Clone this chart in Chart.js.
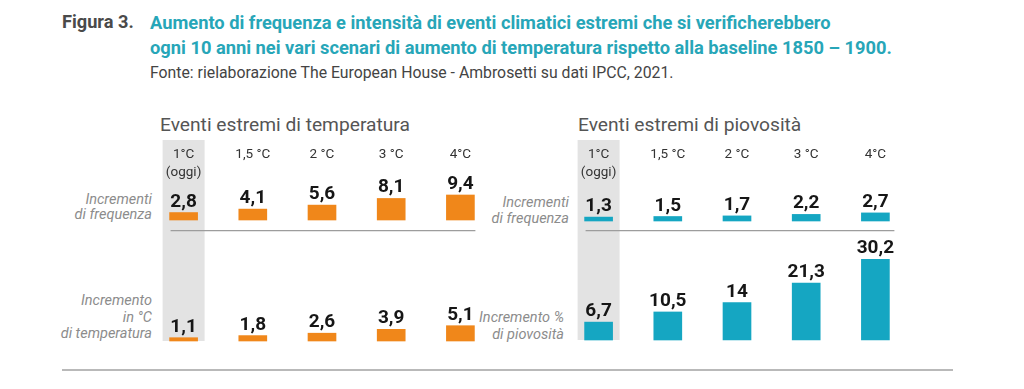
<!DOCTYPE html>
<html lang="it">
<head>
<meta charset="UTF-8">
<title>Figura 3 - Eventi climatici estremi</title>
<script src="https://cdn.jsdelivr.net/npm/chart.js"></script>
<style>
  body { margin: 0; background: #fff; font-family: Roboto, sans-serif; }
  #page { position: relative; width: 1024px; height: 389px; overflow: hidden; }
  .abs { position: absolute; white-space: nowrap; }
  .fig { left: 62px; top: 10px; font-size: 18.2px; line-height: 24px; font-weight: bold; color: #4a4a4a; }
  .title { left: 150px; top: 10px; font-size: 18.3px; line-height: 25px; font-weight: bold; color: #27a6b8; }
  .source { left: 150px; top: 63px; font-size: 15.8px; line-height: 20px; color: #444; }
  .panel-title { top: 113px; font-size: 19.2px; line-height: 24px; color: #555; }
  .row { font-style: italic; font-size: 14.5px; color: #8c8c8c; text-align: right; }
  canvas { position: absolute; }
</style>
</head>
<body>
<div id="page">
  <div class="abs fig">Figura 3.</div>
  <div class="abs title">Aumento di frequenza e intensità di eventi climatici estremi che si verificherebbero<br>ogni 10 anni nei vari scenari di aumento di temperatura rispetto alla baseline 1850 – 1900.</div>
  <div class="abs source">Fonte: rielaborazione The European House - Ambrosetti su dati IPCC, 2021.</div>

  <div class="abs panel-title" style="left:160px">Eventi estremi di temperatura</div>
  <div class="abs panel-title" style="left:578px">Eventi estremi di piovosità</div>

  <div class="abs row" style="right:872px; top:192px; line-height:15px">Incrementi<br>di frequenza</div>
  <div class="abs row" style="right:872px; top:293px; line-height:16.5px">Incremento<br>in °C<br>di temperatura</div>
  <div class="abs row" style="right:455px; top:195px; line-height:15.5px">Incrementi<br>di frequenza</div>
  <div class="abs row" style="right:460px; top:310px; line-height:16.5px">Incremento %<br>di piovosità</div>

  <canvas id="temp" width="346" height="208" style="left:149px; top:138px"></canvas>
  <canvas id="rain" width="346" height="208" style="left:564px; top:138px"></canvas>

  <div class="abs" style="left:62px; top:369px; width:891px; height:2px; background:#b9b9b9"></div>
</div>

<script>
  const scenari = ['1°C', '1,5 °C', '2 °C', '3 °C', '4°C'];
  const tempFrequenza = [2.8, 4.1, 5.6, 8.1, 9.4];
  const tempIncremento = [1.1, 1.8, 2.6, 3.9, 5.1];
  const pioggiaFrequenza = [1.3, 1.5, 1.7, 2.2, 2.7];
  const pioggiaIncremento = [6.7, 10.5, 14, 21.3, 30.2];

  const ARANCIO = '#f0871a';
  const TEAL = '#15a6c2';

  const fmt = v => String(v).replace('.', ',');

  // y range putting value 0 at pixel `base` with `k` px per unit
  function yRange(base, k, h) {
    return { min: -(h - base) / k, max: base / k };
  }

  const panelPlugin = {
    id: 'panel',
    beforeDatasetsDraw(chart, args, opts) {
      const { ctx } = chart;
      const x = chart.scales.x;
      const c0 = x.getPixelForValue(0);
      ctx.save();
      // grey column for today's scenario
      ctx.fillStyle = '#e3e3e3';
      ctx.fillRect(c0 - 21, 2, 42, opts.colBottom);
      // separator between rows
      ctx.strokeStyle = '#9d9d9d';
      ctx.lineWidth = 1.3;
      ctx.beginPath();
      ctx.moveTo(c0 - 13, opts.sepY);
      ctx.lineTo(x.getPixelForValue(4) + opts.sepEnd, opts.sepY);
      ctx.stroke();
      // scenario headers
      ctx.fillStyle = '#333';
      ctx.font = '13.5px Roboto';
      ctx.textAlign = 'center';
      ctx.textBaseline = 'middle';
      scenari.forEach((s, i) => ctx.fillText(s, x.getPixelForValue(i), 17));
      ctx.fillText('(oggi)', c0, 35);
      ctx.restore();
    },
    afterDatasetsDraw(chart) {
      const { ctx } = chart;
      ctx.save();
      ctx.font = 'bold 19px Roboto';
      ctx.fillStyle = '#161616';
      ctx.textAlign = 'center';
      ctx.textBaseline = 'alphabetic';
      chart.data.datasets.forEach((ds, di) => {
        chart.getDatasetMeta(di).data.forEach((bar, i) => {
          ctx.fillText(fmt(ds.data[i]), bar.x, bar.y - 6);
        });
      });
      ctx.restore();
    }
  };

  function makePanel(id, freq, incr, color, fBase, fK, iBase, iK, sepEnd) {
    const H = 208;
    const f = yRange(fBase, fK, H);
    const inc = yRange(iBase, iK, H);
    return new Chart(document.getElementById(id), {
      type: 'bar',
      data: {
        labels: scenari,
        datasets: [
          { data: freq, yAxisID: 'yF', backgroundColor: color, grouped: false, barThickness: 28 },
          { data: incr, yAxisID: 'yI', backgroundColor: color, grouped: false, barThickness: 28 }
        ]
      },
      options: {
        responsive: false,
        animation: false,
        devicePixelRatio: 1,
        layout: { padding: 0 },
        plugins: {
          legend: { display: false },
          tooltip: { enabled: false },
          panel: { sepY: 92.7, sepEnd: sepEnd, colBottom: iBase - 2 }
        },
        scales: {
          x: { display: false },
          yF: { display: false, min: f.min, max: f.max },
          yI: { display: false, min: inc.min, max: inc.max }
        }
      },
      plugins: [panelPlugin]
    });
  }

  makePanel('temp', tempFrequenza, tempIncremento, ARANCIO, 82, 2.66, 203, 3.0, 15);
  makePanel('rain', pioggiaFrequenza, pioggiaIncremento, TEAL, 83, 3.0, 202, 2.67, 19);
</script>
</body>
</html>
